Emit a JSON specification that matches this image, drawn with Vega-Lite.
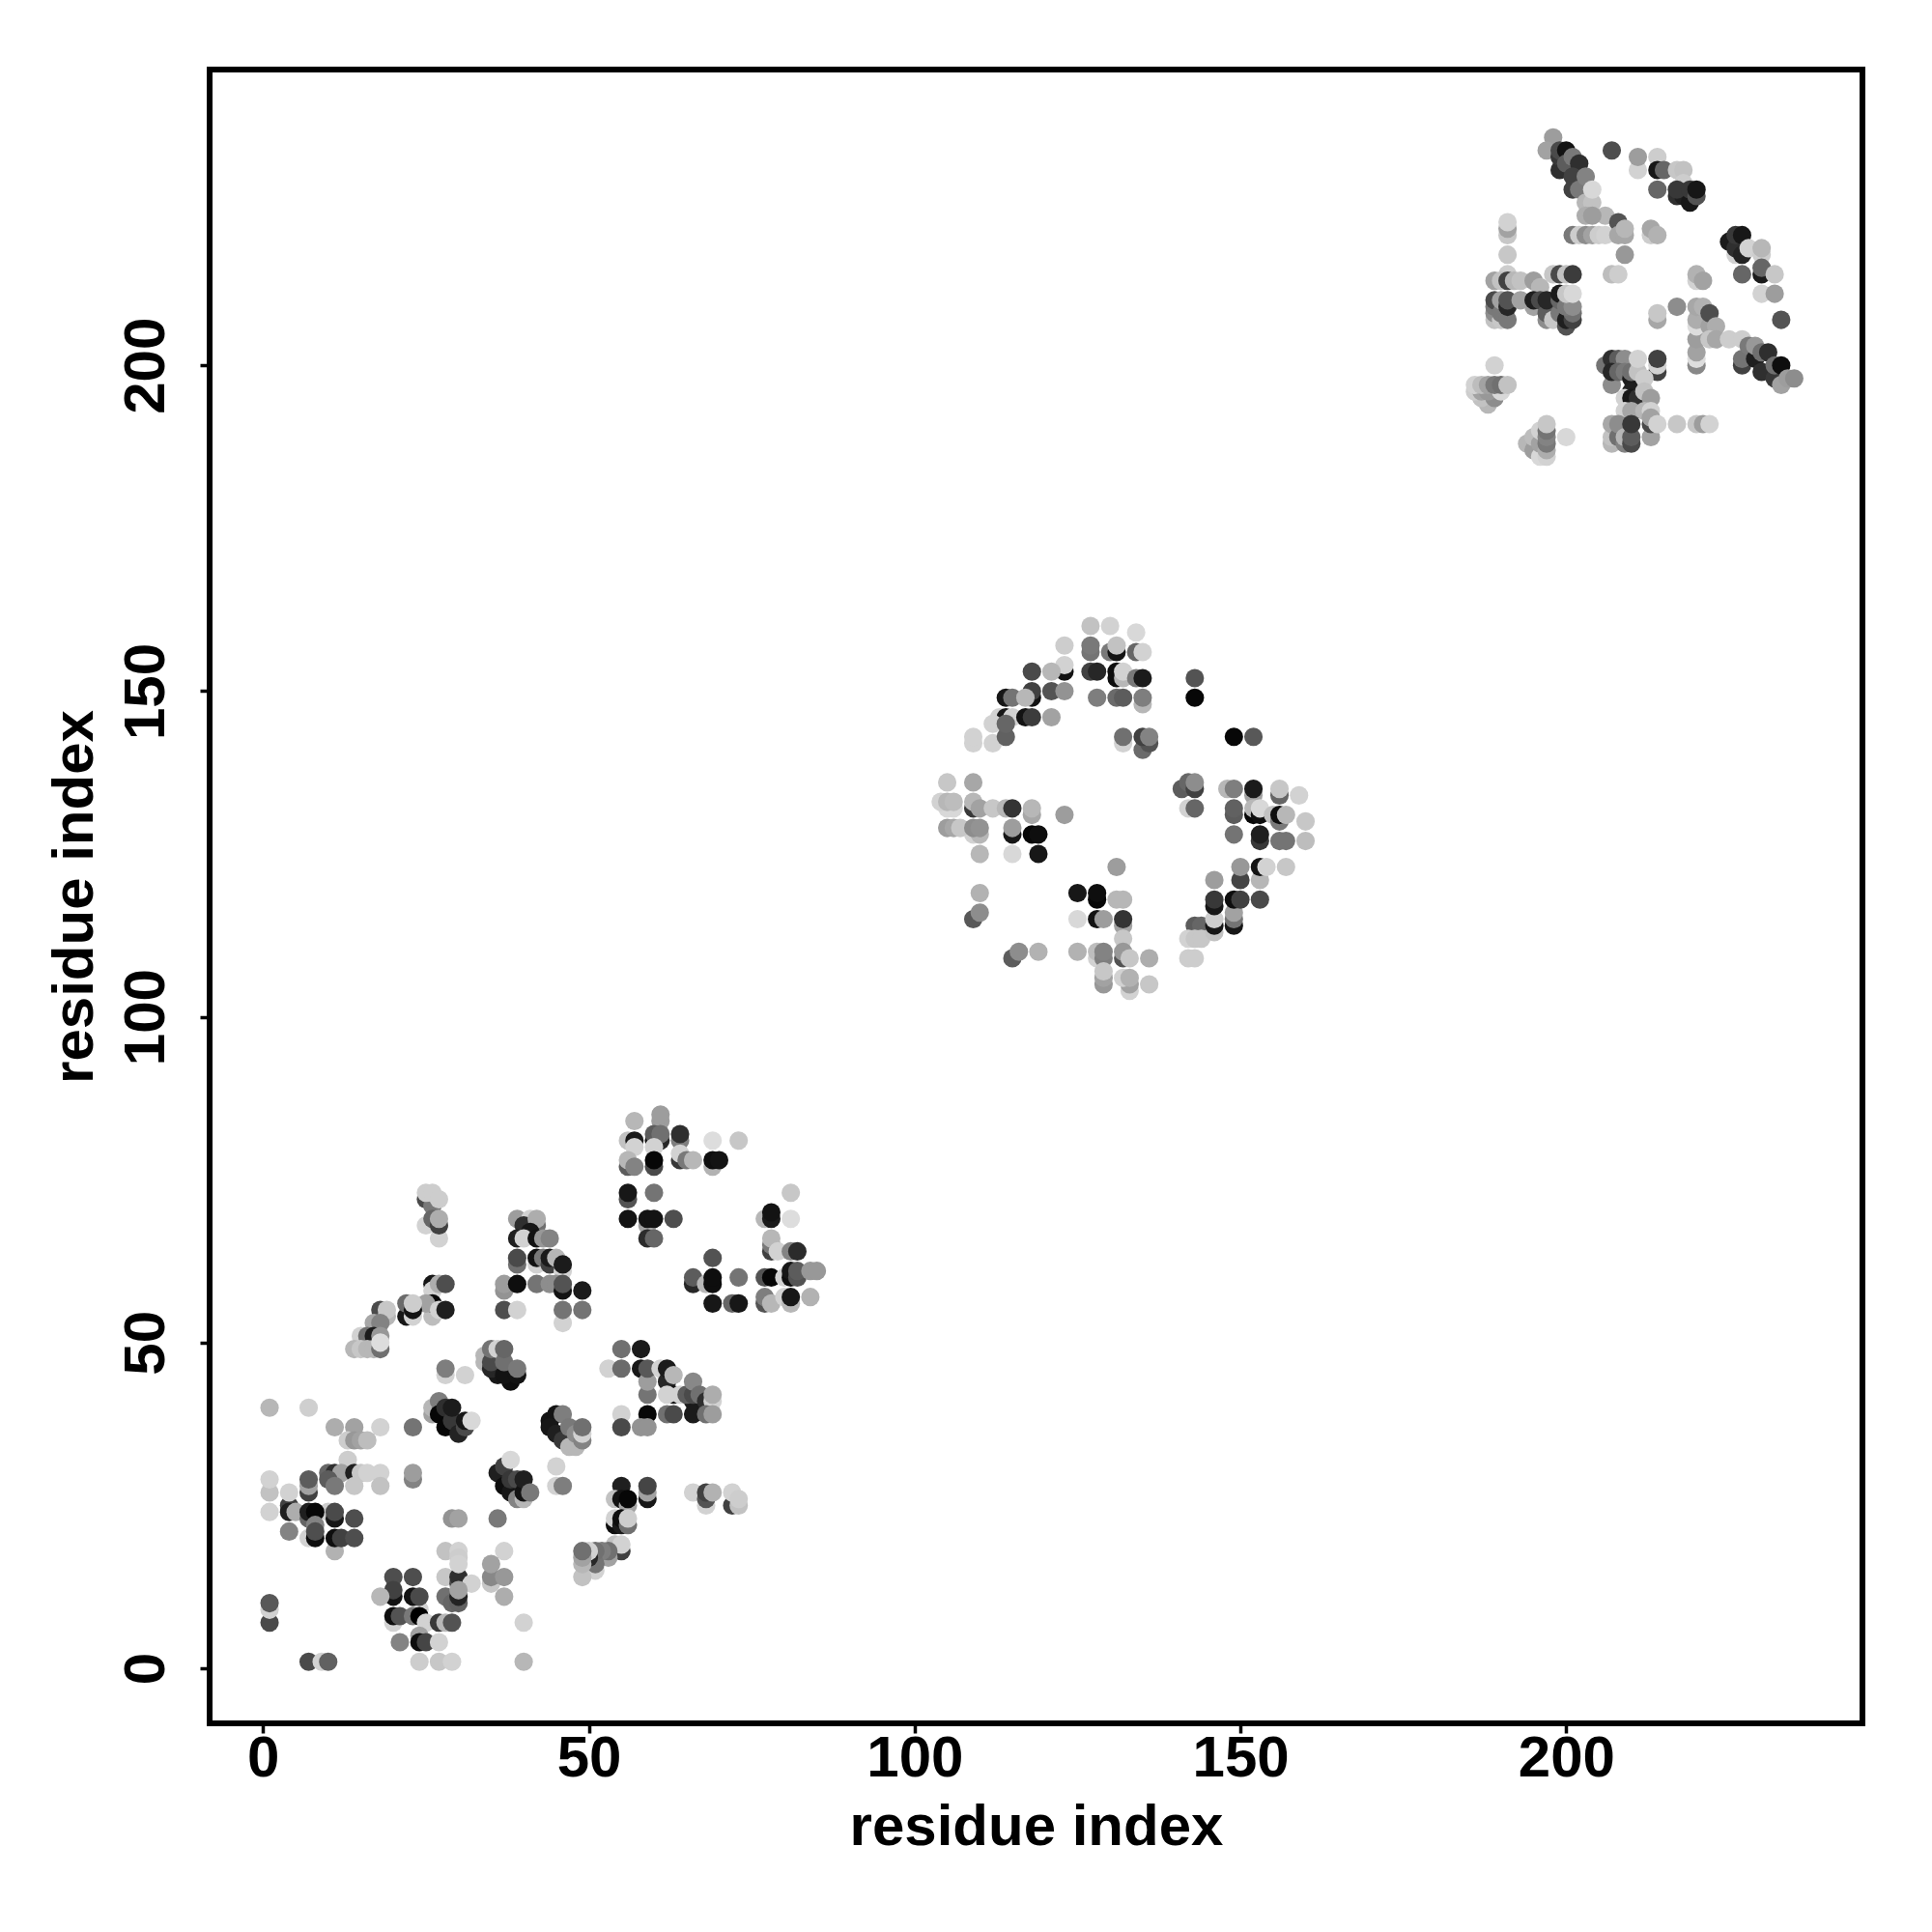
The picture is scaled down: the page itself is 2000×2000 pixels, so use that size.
{"$schema":"https://vega.github.io/schema/vega-lite/v6.json","width":1711,"height":1712,"autosize":{"type":"none"},"padding":{"left":217,"top":72,"right":72,"bottom":216},"background":"white",
"config":{"view":{"stroke":"black","strokeWidth":6,"fill":"white"},"font":"Liberation Sans"},
"data":{"values":[
{"x":1,"y":40,"g":190},{"x":7,"y":40,"g":212},{"x":11,"y":37,"g":180},{"x":14,"y":37,"g":170},{"x":18,"y":37,"g":215},{"x":23,"y":37,"g":125},{"x":13,"y":35,"g":210},{"x":14,"y":35,"g":160},{"x":15,"y":35,"g":170},{"x":16,"y":35,"g":195},{"x":13,"y":32,"g":210},{"x":10,"y":30,"g":110},{"x":11,"y":30,"g":50},{"x":12,"y":30,"g":170},{"x":14,"y":30,"g":30},{"x":15,"y":30,"g":205},{"x":16,"y":30,"g":215},{"x":18,"y":30,"g":215},{"x":23,"y":29,"g":140},{"x":23,"y":30,"g":165},{"x":10,"y":29,"g":100},{"x":11,"y":28,"g":130},{"x":14,"y":28,"g":205},{"x":18,"y":28,"g":200},
{"x":1,"y":27,"g":200},{"x":1,"y":29,"g":215},{"x":1,"y":24,"g":215},{"x":7,"y":27,"g":70},{"x":7,"y":28,"g":170},{"x":7,"y":29,"g":100},{"x":4,"y":25,"g":70},{"x":4,"y":24,"g":30},{"x":4,"y":27,"g":215},{"x":5,"y":24,"g":180},{"x":7,"y":23,"g":110},{"x":7,"y":24,"g":30},{"x":10,"y":24,"g":210},{"x":8,"y":24,"g":5},{"x":8,"y":22,"g":140},{"x":11,"y":23,"g":20},{"x":11,"y":24,"g":80},{"x":14,"y":23,"g":85},{"x":4,"y":21,"g":140},{"x":7,"y":20,"g":215},{"x":8,"y":20,"g":10},{"x":8,"y":21,"g":85},{"x":11,"y":18,"g":185},{"x":11,"y":20,"g":10},{"x":12,"y":20,"g":70},{"x":14,"y":20,"g":85},
{"x":28,"y":45,"g":215},{"x":28,"y":46,"g":135},{"x":31,"y":45,"g":215},{"x":26,"y":39,"g":170},{"x":26,"y":40,"g":190},{"x":27,"y":41,"g":135},{"x":27,"y":39,"g":5},{"x":28,"y":37,"g":5},{"x":28,"y":40,"g":50},{"x":29,"y":38,"g":60},{"x":29,"y":40,"g":25},{"x":30,"y":36,"g":35},{"x":31,"y":37,"g":80},{"x":31,"y":38,"g":20},{"x":32,"y":38,"g":220},
{"x":34,"y":47,"g":190},{"x":34,"y":48,"g":190},{"x":36,"y":45,"g":20},{"x":35,"y":46,"g":40},{"x":35,"y":47,"g":80},{"x":35,"y":49,"g":125},{"x":36,"y":49,"g":215},{"x":38,"y":44,"g":10},{"x":37,"y":45,"g":15},{"x":37,"y":47,"g":120},{"x":37,"y":49,"g":110},{"x":39,"y":45,"g":15},{"x":39,"y":46,"g":130},
{"x":36,"y":30,"g":30},{"x":37,"y":28,"g":10},{"x":37,"y":31,"g":70},{"x":38,"y":27,"g":20},{"x":38,"y":29,"g":60},{"x":38,"y":32,"g":220},{"x":39,"y":26,"g":140},{"x":39,"y":29,"g":80},{"x":40,"y":26,"g":190},{"x":40,"y":27,"g":15},{"x":40,"y":29,"g":30},{"x":41,"y":27,"g":130},
{"x":36,"y":23,"g":130},{"x":29,"y":23,"g":155},{"x":30,"y":23,"g":170},{"x":37,"y":18,"g":215},{"x":28,"y":18,"g":200},{"x":30,"y":18,"g":215},{"x":30,"y":17,"g":210},{"x":28,"y":14,"g":205},{"x":30,"y":13,"g":80},{"x":30,"y":14,"g":50},{"x":30,"y":16,"g":215},{"x":32,"y":13,"g":215},{"x":28,"y":11,"g":120},{"x":29,"y":10,"g":110},{"x":30,"y":10,"g":105},{"x":30,"y":11,"g":35},{"x":30,"y":12,"g":170},{"x":35,"y":13,"g":205},{"x":35,"y":14,"g":145},{"x":35,"y":16,"g":170},{"x":37,"y":14,"g":160},{"x":37,"y":11,"g":180},
{"x":20,"y":14,"g":85},{"x":23,"y":14,"g":85},{"x":20,"y":11,"g":15},{"x":20,"y":12,"g":70},{"x":18,"y":11,"g":190},{"x":24,"y":9,"g":215},{"x":23,"y":11,"g":15},{"x":24,"y":11,"g":80},{"x":20,"y":7,"g":215},{"x":20,"y":8,"g":10},{"x":21,"y":8,"g":90},{"x":23,"y":8,"g":130},{"x":24,"y":8,"g":0},{"x":25,"y":7,"g":215},{"x":27,"y":7,"g":60},{"x":28,"y":7,"g":190},{"x":29,"y":7,"g":90},{"x":21,"y":4,"g":140},{"x":24,"y":5,"g":170},{"x":24,"y":4,"g":10},{"x":25,"y":4,"g":75},{"x":27,"y":4,"g":215},{"x":24,"y":1,"g":210},{"x":27,"y":1,"g":205},{"x":29,"y":1,"g":215},{"x":40,"y":1,"g":190},{"x":40,"y":7,"g":215},{"x":1,"y":7,"g":80},{"x":1,"y":9,"g":215},{"x":1,"y":10,"g":95},{"x":7,"y":1,"g":80},{"x":9,"y":1,"g":215},{"x":10,"y":1,"g":105},
{"x":55,"y":49,"g":120},{"x":58,"y":49,"g":25},{"x":53,"y":46,"g":215},{"x":55,"y":46,"g":115},{"x":58,"y":46,"g":20},{"x":59,"y":42,"g":125},{"x":59,"y":44,"g":165},{"x":59,"y":46,"g":95},{"x":61,"y":46,"g":215},{"x":62,"y":44,"g":40},{"x":62,"y":46,"g":25},{"x":63,"y":45,"g":190},{"x":63,"y":42,"g":15},{"x":62,"y":42,"g":215},{"x":64,"y":42,"g":215},{"x":66,"y":41,"g":25},{"x":65,"y":42,"g":100},{"x":66,"y":42,"g":80},{"x":66,"y":44,"g":145},{"x":67,"y":42,"g":120},{"x":68,"y":41,"g":50},{"x":69,"y":41,"g":215},{"x":69,"y":42,"g":180},{"x":66,"y":39,"g":25},{"x":62,"y":39,"g":120},{"x":63,"y":39,"g":80},{"x":68,"y":39,"g":120},{"x":69,"y":39,"g":165},{"x":55,"y":39,"g":215},{"x":59,"y":39,"g":5},{"x":55,"y":37,"g":80},{"x":58,"y":37,"g":155},{"x":59,"y":37,"g":155},
{"x":44,"y":38,"g":15},{"x":45,"y":39,"g":15},{"x":44,"y":37,"g":20},{"x":45,"y":36,"g":30},{"x":46,"y":39,"g":135},{"x":46,"y":35,"g":60},{"x":47,"y":37,"g":130},{"x":47,"y":34,"g":190},{"x":48,"y":34,"g":190},{"x":48,"y":36,"g":150},{"x":49,"y":35,"g":140},{"x":49,"y":36,"g":215},{"x":49,"y":37,"g":120},{"x":45,"y":31,"g":215},{"x":45,"y":28,"g":215},{"x":46,"y":28,"g":135},
{"x":55,"y":28,"g":30},{"x":59,"y":26,"g":20},{"x":59,"y":27,"g":170},{"x":59,"y":28,"g":75},{"x":54,"y":26,"g":200},{"x":55,"y":26,"g":15},{"x":56,"y":25,"g":170},{"x":56,"y":26,"g":5},{"x":54,"y":22,"g":10},{"x":54,"y":23,"g":215},{"x":55,"y":22,"g":25},{"x":55,"y":23,"g":10},{"x":56,"y":22,"g":120},{"x":56,"y":23,"g":210},{"x":54,"y":19,"g":200},{"x":55,"y":18,"g":70},{"x":55,"y":19,"g":215},{"x":53,"y":17,"g":170},{"x":53,"y":18,"g":120},{"x":52,"y":18,"g":135},{"x":51,"y":15,"g":215},{"x":51,"y":16,"g":125},{"x":51,"y":18,"g":120},{"x":50,"y":17,"g":40},{"x":50,"y":18,"g":215},{"x":49,"y":14,"g":200},{"x":49,"y":16,"g":190},{"x":49,"y":17,"g":170},{"x":49,"y":18,"g":120},
{"x":66,"y":27,"g":215},{"x":68,"y":25,"g":215},{"x":68,"y":26,"g":90},{"x":68,"y":27,"g":70},{"x":69,"y":27,"g":185},{"x":72,"y":25,"g":70},{"x":72,"y":27,"g":215},{"x":73,"y":25,"g":200},{"x":73,"y":26,"g":210},
{"x":25,"y":72,"g":80},{"x":26,"y":71,"g":130},{"x":25,"y":73,"g":210},{"x":26,"y":73,"g":210},{"x":27,"y":72,"g":210},{"x":25,"y":68,"g":215},{"x":26,"y":69,"g":110},{"x":27,"y":66,"g":215},{"x":27,"y":68,"g":70},{"x":27,"y":69,"g":180},
{"x":39,"y":69,"g":165},{"x":41,"y":69,"g":215},{"x":40,"y":68,"g":50},{"x":42,"y":68,"g":120},{"x":42,"y":69,"g":180},{"x":39,"y":66,"g":30},{"x":41,"y":67,"g":20},{"x":40,"y":66,"g":215},{"x":42,"y":66,"g":15},{"x":43,"y":66,"g":160},{"x":44,"y":66,"g":140},{"x":39,"y":62,"g":120},{"x":39,"y":63,"g":80},{"x":42,"y":62,"g":215},{"x":42,"y":63,"g":15},{"x":43,"y":63,"g":130},{"x":44,"y":62,"g":70},{"x":44,"y":63,"g":25},{"x":45,"y":63,"g":190},{"x":46,"y":61,"g":215},{"x":46,"y":62,"g":25},
{"x":37,"y":58,"g":155},{"x":37,"y":59,"g":165},{"x":39,"y":59,"g":10},{"x":42,"y":59,"g":125},{"x":44,"y":59,"g":150},{"x":45,"y":59,"g":150},{"x":46,"y":58,"g":15},{"x":46,"y":59,"g":90},{"x":49,"y":58,"g":25},{"x":37,"y":55,"g":85},{"x":39,"y":55,"g":215},{"x":46,"y":53,"g":215},{"x":46,"y":55,"g":125},{"x":49,"y":55,"g":125},
{"x":26,"y":59,"g":20},{"x":26,"y":58,"g":215},{"x":27,"y":59,"g":180},{"x":28,"y":59,"g":85},{"x":26,"y":54,"g":195},{"x":26,"y":56,"g":5},{"x":25,"y":56,"g":170},{"x":27,"y":55,"g":215},{"x":28,"y":55,"g":30},{"x":22,"y":54,"g":20},{"x":22,"y":56,"g":115},{"x":23,"y":54,"g":215},{"x":23,"y":55,"g":15},{"x":23,"y":56,"g":210},
{"x":18,"y":55,"g":80},{"x":19,"y":54,"g":190},{"x":19,"y":55,"g":205},{"x":17,"y":53,"g":175},{"x":18,"y":53,"g":140},{"x":15,"y":51,"g":215},{"x":16,"y":51,"g":120},{"x":17,"y":51,"g":25},{"x":18,"y":51,"g":160},{"x":14,"y":49,"g":190},{"x":15,"y":49,"g":205},{"x":16,"y":49,"g":190},{"x":17,"y":49,"g":190},{"x":18,"y":49,"g":120},{"x":18,"y":50,"g":225},
{"x":57,"y":84,"g":190},{"x":61,"y":84,"g":165},{"x":61,"y":85,"g":165},{"x":56,"y":81,"g":200},{"x":57,"y":81,"g":25},{"x":60,"y":81,"g":15},{"x":61,"y":81,"g":40},{"x":60,"y":82,"g":100},{"x":61,"y":82,"g":120},{"x":64,"y":81,"g":135},{"x":64,"y":82,"g":50},{"x":69,"y":81,"g":225},{"x":73,"y":81,"g":205},{"x":57,"y":80,"g":215},{"x":60,"y":80,"g":215},{"x":56,"y":77,"g":100},{"x":56,"y":78,"g":190},{"x":57,"y":77,"g":140},{"x":60,"y":77,"g":80},{"x":60,"y":78,"g":5},{"x":64,"y":78,"g":60},{"x":64,"y":79,"g":215},{"x":65,"y":78,"g":130},{"x":66,"y":78,"g":190},{"x":69,"y":77,"g":185},{"x":69,"y":78,"g":10},{"x":70,"y":78,"g":15},
{"x":56,"y":72,"g":90},{"x":56,"y":73,"g":20},{"x":60,"y":73,"g":125},{"x":56,"y":69,"g":15},{"x":59,"y":68,"g":170},{"x":59,"y":69,"g":15},{"x":60,"y":69,"g":15},{"x":63,"y":69,"g":85},{"x":59,"y":66,"g":45},{"x":60,"y":66,"g":110},
{"x":81,"y":73,"g":205},{"x":77,"y":69,"g":190},{"x":78,"y":69,"g":25},{"x":78,"y":70,"g":15},{"x":81,"y":69,"g":225},{"x":78,"y":64,"g":70},{"x":78,"y":65,"g":130},{"x":78,"y":66,"g":190},{"x":79,"y":64,"g":215},{"x":81,"y":64,"g":140},{"x":82,"y":64,"g":45},{"x":69,"y":63,"g":90},{"x":66,"y":59,"g":40},{"x":66,"y":60,"g":100},{"x":68,"y":59,"g":190},{"x":69,"y":59,"g":10},{"x":69,"y":60,"g":10},{"x":73,"y":60,"g":125},{"x":77,"y":60,"g":90},{"x":78,"y":60,"g":5},{"x":80,"y":60,"g":215},{"x":81,"y":60,"g":10},{"x":81,"y":61,"g":20},{"x":82,"y":60,"g":90},{"x":82,"y":61,"g":100},{"x":84,"y":61,"g":160},{"x":85,"y":61,"g":160},{"x":69,"y":56,"g":20},{"x":72,"y":56,"g":110},{"x":73,"y":56,"g":20},{"x":77,"y":56,"g":90},{"x":77,"y":57,"g":135},{"x":78,"y":56,"g":190},{"x":80,"y":57,"g":215},{"x":81,"y":56,"g":190},{"x":81,"y":57,"g":20},{"x":84,"y":57,"g":185},
{"x":127,"y":160,"g":200},{"x":130,"y":160,"g":215},{"x":134,"y":159,"g":220},{"x":123,"y":157,"g":210},{"x":127,"y":156,"g":125},{"x":127,"y":157,"g":130},{"x":130,"y":156,"g":130},{"x":131,"y":156,"g":15},{"x":131,"y":157,"g":200},{"x":134,"y":156,"g":110},{"x":135,"y":156,"g":215},{"x":123,"y":153,"g":15},{"x":123,"y":154,"g":215},{"x":121,"y":153,"g":190},{"x":118,"y":153,"g":80},{"x":127,"y":153,"g":70},{"x":128,"y":153,"g":40},{"x":131,"y":152,"g":10},{"x":131,"y":153,"g":10},{"x":132,"y":152,"g":190},{"x":132,"y":153,"g":215},{"x":134,"y":152,"g":130},{"x":135,"y":152,"g":25},{"x":143,"y":152,"g":90},
{"x":118,"y":149,"g":15},{"x":118,"y":150,"g":70},{"x":114,"y":149,"g":20},{"x":115,"y":149,"g":125},{"x":117,"y":149,"g":190},{"x":121,"y":150,"g":90},{"x":123,"y":150,"g":155},{"x":128,"y":149,"g":135},{"x":131,"y":149,"g":115},{"x":132,"y":149,"g":100},{"x":135,"y":148,"g":190},{"x":135,"y":149,"g":135},{"x":143,"y":149,"g":5},{"x":113,"y":146,"g":215},{"x":114,"y":146,"g":20},{"x":115,"y":146,"g":215},{"x":117,"y":146,"g":15},{"x":118,"y":146,"g":65},{"x":121,"y":146,"g":170},{"x":112,"y":142,"g":215},{"x":112,"y":145,"g":215},{"x":114,"y":143,"g":105},{"x":114,"y":145,"g":110},{"x":109,"y":142,"g":215},{"x":109,"y":143,"g":215},
{"x":132,"y":142,"g":215},{"x":132,"y":143,"g":120},{"x":135,"y":141,"g":115},{"x":136,"y":142,"g":90},{"x":135,"y":143,"g":70},{"x":136,"y":143,"g":140},{"x":149,"y":143,"g":5},{"x":152,"y":143,"g":95},
{"x":105,"y":136,"g":205},{"x":109,"y":136,"g":175},{"x":105,"y":132,"g":220},{"x":106,"y":132,"g":220},{"x":104,"y":133,"g":215},{"x":105,"y":133,"g":190},{"x":106,"y":133,"g":195},{"x":109,"y":132,"g":60},{"x":109,"y":133,"g":190},{"x":110,"y":132,"g":170},{"x":112,"y":132,"g":205},{"x":114,"y":132,"g":190},{"x":115,"y":132,"g":55},{"x":118,"y":131,"g":175},{"x":118,"y":132,"g":190},{"x":123,"y":131,"g":165},{"x":109,"y":128,"g":215},{"x":110,"y":128,"g":190},{"x":105,"y":129,"g":165},{"x":106,"y":129,"g":175},{"x":107,"y":129,"g":205},{"x":109,"y":129,"g":150},{"x":110,"y":129,"g":155},{"x":115,"y":128,"g":20},{"x":115,"y":129,"g":165},{"x":118,"y":128,"g":5},{"x":119,"y":128,"g":10},{"x":119,"y":125,"g":20},{"x":115,"y":125,"g":220},{"x":110,"y":125,"g":190},
{"x":110,"y":119,"g":185},{"x":109,"y":115,"g":95},{"x":110,"y":116,"g":150},{"x":131,"y":123,"g":165},{"x":125,"y":119,"g":20},{"x":128,"y":118,"g":5},{"x":128,"y":119,"g":10},{"x":131,"y":118,"g":190},{"x":132,"y":118,"g":190},{"x":125,"y":115,"g":220},{"x":128,"y":115,"g":15},{"x":129,"y":115,"g":165},{"x":132,"y":114,"g":170},{"x":132,"y":115,"g":55},{"x":132,"y":112,"g":205},
{"x":115,"y":109,"g":100},{"x":116,"y":110,"g":150},{"x":119,"y":110,"g":185},{"x":125,"y":110,"g":185},{"x":128,"y":109,"g":215},{"x":128,"y":110,"g":195},{"x":129,"y":109,"g":135},{"x":129,"y":110,"g":140},{"x":132,"y":109,"g":90},{"x":132,"y":110,"g":160},{"x":133,"y":109,"g":205},{"x":136,"y":109,"g":180},{"x":129,"y":105,"g":160},{"x":129,"y":106,"g":170},{"x":129,"y":107,"g":205},{"x":133,"y":104,"g":215},{"x":133,"y":105,"g":170},{"x":132,"y":106,"g":215},{"x":133,"y":106,"g":185},{"x":136,"y":105,"g":205},
{"x":142,"y":109,"g":210},{"x":143,"y":109,"g":210},{"x":143,"y":114,"g":100},{"x":144,"y":114,"g":110},{"x":142,"y":112,"g":215},{"x":143,"y":112,"g":205},{"x":144,"y":112,"g":205},{"x":146,"y":113,"g":200},{"x":146,"y":114,"g":20},{"x":146,"y":115,"g":210},{"x":146,"y":117,"g":20},{"x":146,"y":118,"g":60},{"x":149,"y":114,"g":20},{"x":149,"y":115,"g":125},{"x":149,"y":116,"g":170},{"x":149,"y":118,"g":10},{"x":150,"y":118,"g":70},{"x":153,"y":118,"g":80},{"x":146,"y":121,"g":165},{"x":153,"y":121,"g":190},{"x":150,"y":121,"g":75},{"x":150,"y":123,"g":160},{"x":153,"y":123,"g":15},{"x":154,"y":123,"g":215},{"x":157,"y":123,"g":205},
{"x":148,"y":135,"g":190},{"x":149,"y":135,"g":135},{"x":152,"y":134,"g":170},{"x":152,"y":135,"g":25},{"x":156,"y":134,"g":110},{"x":156,"y":135,"g":205},{"x":159,"y":134,"g":215},{"x":141,"y":135,"g":100},{"x":142,"y":136,"g":110},{"x":143,"y":135,"g":70},{"x":143,"y":136,"g":150},{"x":142,"y":132,"g":215},{"x":143,"y":132,"g":110},{"x":149,"y":131,"g":100},{"x":149,"y":132,"g":105},{"x":152,"y":131,"g":5},{"x":152,"y":132,"g":190},{"x":153,"y":131,"g":10},{"x":153,"y":132,"g":220},{"x":155,"y":131,"g":200},{"x":156,"y":130,"g":130},{"x":156,"y":131,"g":10},{"x":157,"y":131,"g":190},{"x":160,"y":130,"g":205},{"x":149,"y":128,"g":125},{"x":153,"y":127,"g":60},{"x":153,"y":128,"g":30},{"x":156,"y":127,"g":125},{"x":157,"y":127,"g":125},{"x":160,"y":127,"g":195},
{"x":198,"y":235,"g":165},{"x":197,"y":233,"g":170},{"x":199,"y":230,"g":50},{"x":199,"y":232,"g":60},{"x":199,"y":233,"g":80},{"x":200,"y":233,"g":15},{"x":200,"y":231,"g":100},{"x":201,"y":232,"g":130},{"x":202,"y":231,"g":50},{"x":201,"y":229,"g":70},{"x":201,"y":227,"g":70},{"x":202,"y":227,"g":130},{"x":203,"y":229,"g":140},{"x":203,"y":225,"g":190},{"x":204,"y":225,"g":200},{"x":204,"y":227,"g":220},{"x":203,"y":223,"g":180},{"x":206,"y":223,"g":190},{"x":204,"y":223,"g":165},{"x":208,"y":222,"g":90},{"x":201,"y":220,"g":130},{"x":202,"y":220,"g":210},{"x":203,"y":220,"g":150},{"x":204,"y":220,"g":170},{"x":205,"y":220,"g":210},{"x":206,"y":220,"g":215},{"x":208,"y":220,"g":175},{"x":209,"y":220,"g":175},{"x":209,"y":221,"g":190},{"x":213,"y":220,"g":210},{"x":213,"y":221,"g":175},{"x":214,"y":220,"g":185},{"x":209,"y":217,"g":160},{"x":207,"y":214,"g":195},{"x":208,"y":214,"g":210},
{"x":207,"y":233,"g":85},{"x":211,"y":230,"g":215},{"x":211,"y":232,"g":165},{"x":214,"y":232,"g":210},{"x":214,"y":230,"g":20},{"x":215,"y":230,"g":110},{"x":217,"y":230,"g":205},{"x":218,"y":230,"g":200},{"x":214,"y":227,"g":110},{"x":218,"y":228,"g":210},{"x":217,"y":226,"g":50},{"x":218,"y":226,"g":30},{"x":219,"y":225,"g":20},{"x":217,"y":227,"g":60},{"x":219,"y":227,"g":60},{"x":220,"y":226,"g":90},{"x":220,"y":227,"g":20},
{"x":225,"y":219,"g":25},{"x":226,"y":217,"g":215},{"x":226,"y":218,"g":50},{"x":226,"y":220,"g":60},{"x":227,"y":217,"g":35},{"x":227,"y":220,"g":20},{"x":228,"y":218,"g":215},{"x":230,"y":217,"g":210},{"x":230,"y":218,"g":190},{"x":230,"y":214,"g":25},{"x":230,"y":215,"g":110},{"x":227,"y":214,"g":110},{"x":232,"y":214,"g":205},{"x":230,"y":211,"g":215},{"x":232,"y":211,"g":165},{"x":233,"y":207,"g":90},
{"x":191,"y":220,"g":205},{"x":191,"y":221,"g":170},{"x":191,"y":222,"g":215},{"x":191,"y":217,"g":205},{"x":191,"y":214,"g":210},{"x":189,"y":213,"g":170},{"x":190,"y":213,"g":200},{"x":191,"y":213,"g":70},{"x":192,"y":213,"g":190},{"x":193,"y":213,"g":200},{"x":195,"y":213,"g":165},{"x":196,"y":212,"g":190},{"x":198,"y":214,"g":205},{"x":199,"y":214,"g":80},{"x":200,"y":214,"g":200},{"x":201,"y":214,"g":65},
{"x":189,"y":207,"g":200},{"x":189,"y":208,"g":150},{"x":189,"y":209,"g":130},{"x":189,"y":210,"g":80},{"x":190,"y":207,"g":205},{"x":190,"y":208,"g":130},{"x":190,"y":210,"g":170},{"x":191,"y":207,"g":130},{"x":191,"y":209,"g":40},{"x":191,"y":210,"g":90},{"x":193,"y":210,"g":170},{"x":195,"y":209,"g":170},{"x":195,"y":210,"g":30},{"x":196,"y":210,"g":80},{"x":197,"y":207,"g":150},{"x":197,"y":208,"g":100},{"x":197,"y":210,"g":40},{"x":198,"y":207,"g":205},{"x":199,"y":208,"g":130},{"x":199,"y":210,"g":110},{"x":199,"y":211,"g":25},{"x":200,"y":206,"g":90},{"x":200,"y":207,"g":30},{"x":201,"y":207,"g":70},{"x":201,"y":208,"g":120},{"x":200,"y":209,"g":130},{"x":201,"y":209,"g":150},{"x":200,"y":211,"g":205},{"x":201,"y":211,"g":220},
{"x":214,"y":207,"g":175},{"x":214,"y":208,"g":205},{"x":217,"y":209,"g":150},{"x":220,"y":213,"g":215},{"x":220,"y":214,"g":185},{"x":221,"y":213,"g":170},{"x":220,"y":200,"g":145},{"x":220,"y":201,"g":225},{"x":220,"y":202,"g":170},{"x":220,"y":204,"g":165},{"x":220,"y":206,"g":225},{"x":220,"y":207,"g":180},{"x":220,"y":209,"g":175},{"x":221,"y":209,"g":185},{"x":222,"y":206,"g":170},{"x":222,"y":208,"g":85},{"x":223,"y":206,"g":180},{"x":222,"y":204,"g":205},{"x":223,"y":204,"g":175},{"x":225,"y":204,"g":210},{"x":227,"y":200,"g":70},{"x":227,"y":201,"g":125},{"x":227,"y":204,"g":210},{"x":228,"y":203,"g":130},{"x":229,"y":201,"g":30},{"x":229,"y":203,"g":160},{"x":230,"y":199,"g":50},{"x":230,"y":202,"g":120},{"x":231,"y":202,"g":50},{"x":232,"y":198,"g":60},{"x":232,"y":200,"g":120},{"x":233,"y":197,"g":170},{"x":233,"y":200,"g":10},{"x":234,"y":198,"g":165},{"x":235,"y":198,"g":150},
{"x":189,"y":200,"g":215},{"x":188,"y":194,"g":190},{"x":187,"y":195,"g":200},{"x":189,"y":195,"g":150},{"x":186,"y":196,"g":210},{"x":187,"y":196,"g":170},{"x":188,"y":196,"g":160},{"x":190,"y":196,"g":220},{"x":186,"y":197,"g":215},{"x":187,"y":197,"g":195},{"x":188,"y":197,"g":170},{"x":189,"y":197,"g":130},{"x":190,"y":197,"g":120},{"x":191,"y":197,"g":200},
{"x":194,"y":188,"g":190},{"x":195,"y":187,"g":165},{"x":195,"y":189,"g":195},{"x":196,"y":186,"g":220},{"x":196,"y":188,"g":170},{"x":196,"y":190,"g":215},{"x":197,"y":186,"g":215},{"x":197,"y":187,"g":180},{"x":197,"y":188,"g":130},{"x":197,"y":189,"g":140},{"x":197,"y":190,"g":125},{"x":197,"y":191,"g":205},{"x":200,"y":189,"g":220},
{"x":206,"y":200,"g":125},{"x":207,"y":201,"g":50},{"x":208,"y":201,"g":100},{"x":209,"y":201,"g":150},{"x":214,"y":199,"g":70},{"x":214,"y":200,"g":215},{"x":214,"y":201,"g":70},{"x":207,"y":197,"g":150},{"x":207,"y":199,"g":40},{"x":208,"y":199,"g":110},{"x":209,"y":199,"g":130},{"x":210,"y":198,"g":25},{"x":210,"y":199,"g":120},{"x":211,"y":199,"g":200},{"x":211,"y":201,"g":215},{"x":212,"y":198,"g":210},{"x":210,"y":196,"g":30},{"x":209,"y":195,"g":215},{"x":210,"y":195,"g":20},{"x":211,"y":195,"g":50},{"x":212,"y":196,"g":200},{"x":213,"y":195,"g":165},{"x":209,"y":193,"g":215},{"x":210,"y":193,"g":175},{"x":212,"y":193,"g":190},{"x":213,"y":193,"g":215},
{"x":207,"y":188,"g":190},{"x":207,"y":189,"g":200},{"x":207,"y":191,"g":175},{"x":208,"y":189,"g":120},{"x":208,"y":191,"g":150},{"x":209,"y":188,"g":140},{"x":209,"y":189,"g":190},{"x":210,"y":188,"g":80},{"x":210,"y":189,"g":100},{"x":210,"y":191,"g":60},{"x":213,"y":189,"g":170},{"x":213,"y":191,"g":80},{"x":213,"y":192,"g":170},{"x":214,"y":191,"g":215},{"x":217,"y":191,"g":205},{"x":220,"y":191,"g":205},{"x":221,"y":191,"g":165},{"x":222,"y":191,"g":215}
]},
"mark":{"type":"point","filled":true,"shape":"circle","opacity":1,"size":365},
"encoding":{
"x":{"field":"x","type":"quantitative","scale":{"domain":[-8.2,245.47],"nice":false,"zero":false},"axis":{"values":[0,50,100,150,200],"title":"residue index","grid":false,"domain":false,"tickColor":"black","tickWidth":3.5,"tickSize":10,"labelFont":"Liberation Sans","labelFontWeight":"bold","labelFontSize":60,"labelColor":"black","labelPadding":-3,"titleFont":"Liberation Sans","titleFontWeight":"bold","titleFontSize":60,"titleColor":"black","titlePadding":12}},
"y":{"field":"y","type":"quantitative","scale":{"domain":[-8.45,245.42],"nice":false,"zero":false},"axis":{"values":[0,50,100,150,200],"title":"residue index","grid":false,"domain":false,"tickColor":"black","tickWidth":3.5,"tickSize":10,"labelAngle":-90,"labelAlign":"center","labelBaseline":"bottom","labelFont":"Liberation Sans","labelFontWeight":"bold","labelFontSize":60,"labelColor":"black","labelPadding":25,"titleFont":"Liberation Sans","titleFontWeight":"bold","titleFontSize":60,"titleColor":"black","titlePadding":13}},
"color":{"field":"g","type":"quantitative","scale":{"domain":[0,255],"range":["#000000","#ffffff"]},"legend":null}
}}
